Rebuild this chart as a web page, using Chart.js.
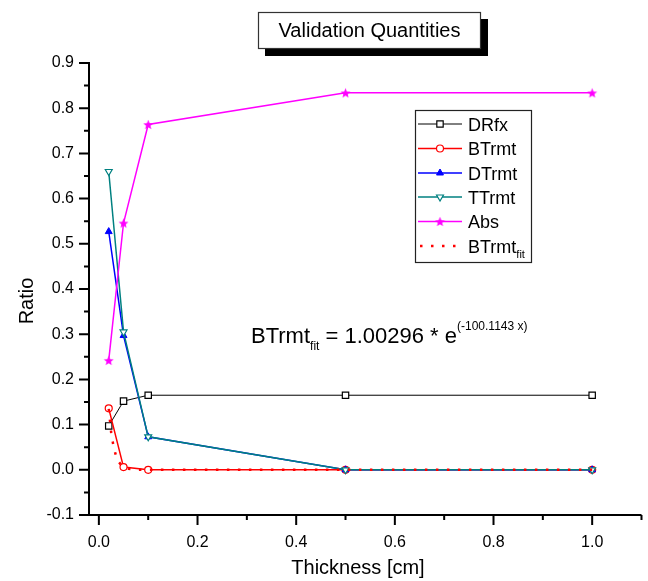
<!DOCTYPE html>
<html lang="en">
<head>
  <meta charset="UTF-8" />
  <title>Validation Quantities</title>
  <script src="https://cdn.jsdelivr.net/npm/chart.js"></script>
  <style>
    body { margin: 0; background: #fff; }
    #wrap { width: 648px; height: 581px; }
  </style>
</head>
<body>
  <div id="wrap"><canvas id="chart" width="648" height="581"></canvas></div>

  <script>
    // values
    const thickness = [0.02, 0.05, 0.1, 0.5, 1.0];
    const drfx    = [0.097, 0.152, 0.165, 0.165, 0.165];
    const btrmt   = [0.136, 0.006, 0.0, 0.0, 0.0];
    const dtrmt   = [0.527, 0.297, 0.073, 0.0, 0.0];
    const ttrmt   = [0.660, 0.305, 0.073, 0.0, 0.0];
    const absVals = [0.242, 0.546, 0.764, 0.834, 0.834];

    // dotted fit curve, traced by eye
    const fitX = [0.02, 0.025, 0.03, 0.035, 0.04, 0.045, 0.05, 0.06, 0.07, 0.08, 0.1, 0.5, 1.0];
    const fitY = [0.135, 0.082, 0.050, 0.030, 0.018, 0.011, 0.007, 0.0025, 0.001, 0.0003, 0.0, 0.0, 0.0];

    const xMajor = [0, 0.2, 0.4, 0.6, 0.8, 1.0];
    const xMinor = [0.1, 0.3, 0.5, 0.7, 0.9, 1.1];
    const yMajor = [-0.1, 0, 0.1, 0.2, 0.3, 0.4, 0.5, 0.6, 0.7, 0.8, 0.9];
    const yMinor = [-0.05, 0.05, 0.15, 0.25, 0.35, 0.45, 0.55, 0.65, 0.75, 0.85];

    const FONT = "'Liberation Sans', Arial, sans-serif";

    function starImage(color) {
      const c = document.createElement('canvas');
      c.width = 11; c.height = 11;
      const g = c.getContext('2d');
      g.fillStyle = color;
      g.beginPath();
      for (let i = 0; i < 10; i++) {
        const r = i % 2 ? 2.3 : 5.2;
        const a = -Math.PI / 2 + i * Math.PI / 5;
        g.lineTo(5.5 + r * Math.cos(a), 6 + r * Math.sin(a));
      }
      g.closePath();
      g.fill();
      return c;
    }

    const pts = ys => thickness.map((x, i) => ({ x: x, y: ys[i] }));

    const datasets = [
      {
        label: 'DRfx', data: pts(drfx),
        borderColor: '#000000', backgroundColor: '#ffffff', borderWidth: 1,
        pointStyle: 'rect', pointRadius: 4.5, pointBorderWidth: 1.2, order: 5
      },
      {
        label: 'BTrmt', data: pts(btrmt),
        borderColor: '#ff0000', backgroundColor: '#ffffff', borderWidth: 1.5,
        pointStyle: 'circle', pointRadius: 3.5, pointBorderWidth: 1.2, order: 4
      },
      {
        label: 'DTrmt', data: pts(dtrmt),
        borderColor: '#0000ff', backgroundColor: '#0000ff', borderWidth: 1.5,
        pointStyle: 'triangle', pointRadius: 4, pointBorderWidth: 1, order: 3
      },
      {
        label: 'TTrmt', data: pts(ttrmt),
        borderColor: '#008080', backgroundColor: '#ffffff', borderWidth: 1.5,
        pointStyle: 'triangle', rotation: 180, pointRadius: 4, pointBorderWidth: 1.2, order: 2
      },
      {
        label: 'Abs', data: pts(absVals),
        borderColor: '#ff00ff', backgroundColor: '#ff00ff', borderWidth: 1.5,
        pointStyle: starImage('#ff00ff'), pointRadius: 5, order: 1
      },
      {
        label: 'BTrmt_fit', data: fitX.map((x, i) => ({ x: x, y: fitY[i] })),
        borderColor: '#ff0000', backgroundColor: '#ff0000', borderWidth: 2.5,
        borderDash: [2.5, 8.5], pointRadius: 0, order: 0
      }
    ];
    datasets.forEach(d => { d.showLine = true; d.fill = false; });

    const decor = {
      id: 'decor',
      afterDatasetsDraw(chart) {
        const ctx = chart.ctx;
        const a = chart.chartArea;
        const xs = chart.scales.x, ys = chart.scales.y;
        ctx.save();

        // axes with outward ticks
        ctx.strokeStyle = '#000';
        ctx.lineWidth = 2;
        ctx.beginPath();
        ctx.moveTo(a.left, ys.getPixelForValue(0.9) - 1);
        ctx.lineTo(a.left, a.bottom);
        ctx.lineTo(a.right, a.bottom);
        yMajor.forEach(v => { const p = ys.getPixelForValue(v); ctx.moveTo(a.left, p); ctx.lineTo(a.left - 10, p); });
        yMinor.forEach(v => { const p = ys.getPixelForValue(v); ctx.moveTo(a.left, p); ctx.lineTo(a.left - 5, p); });
        xMajor.forEach(v => { const p = xs.getPixelForValue(v); ctx.moveTo(p, a.bottom); ctx.lineTo(p, a.bottom + 10); });
        xMinor.forEach(v => { const p = xs.getPixelForValue(v); ctx.moveTo(p, a.bottom); ctx.lineTo(p, a.bottom + 5); });
        ctx.stroke();

        // axis titles
        ctx.fillStyle = '#000';
        ctx.font = '20px ' + FONT;
        ctx.textAlign = 'center';
        ctx.textBaseline = 'middle';
        ctx.fillText('Thickness [cm]', 358, 568);
        ctx.save();
        ctx.translate(27, 301);
        ctx.rotate(-Math.PI / 2);
        ctx.fillText('Ratio', 0, 0);
        ctx.restore();

        // title box with shadow
        ctx.fillStyle = '#000';
        ctx.fillRect(265, 19, 223, 37);
        ctx.fillStyle = '#fff';
        ctx.fillRect(258, 12, 223, 37);
        ctx.lineWidth = 1.2;
        ctx.strokeStyle = '#333';
        ctx.strokeRect(258.5, 12.5, 222, 36);
        ctx.fillStyle = '#000';
        ctx.font = '20px ' + FONT;
        ctx.fillText('Validation Quantities', 369.5, 31);

        // legend
        ctx.fillStyle = '#fff';
        ctx.fillRect(415, 110, 117, 153);
        ctx.strokeStyle = '#222';
        ctx.lineWidth = 1.2;
        ctx.strokeRect(415.5, 110.5, 116, 152);
        const rowY = [124, 148.5, 173, 197, 221.5, 246];
        chart.data.datasets.forEach((d, i) => {
          const y = rowY[i];
          ctx.save();
          ctx.strokeStyle = d.borderColor;
          ctx.lineWidth = d.borderWidth;
          ctx.setLineDash(d.borderDash || []);
          ctx.beginPath();
          ctx.moveTo(d.borderDash ? 420 : 418, y);
          ctx.lineTo(462, y);
          ctx.stroke();
          ctx.setLineDash([]);
          if (d.pointRadius > 0) {
            ctx.fillStyle = d.backgroundColor;
            ctx.lineWidth = d.pointBorderWidth || 1;
            Chart.helpers.drawPoint(ctx, {
              pointStyle: d.pointStyle, radius: d.pointRadius,
              rotation: d.rotation || 0, borderWidth: d.pointBorderWidth || 1
            }, 440, y);
          }
          ctx.restore();
          const parts = d.label.split('_');
          ctx.fillStyle = '#000';
          ctx.textAlign = 'left';
          ctx.textBaseline = 'alphabetic';
          ctx.font = '18px ' + FONT;
          ctx.fillText(parts[0], 468, y + 6.5);
          if (parts[1]) {
            const w = ctx.measureText(parts[0]).width;
            ctx.font = '11px ' + FONT;
            ctx.fillText(parts[1], 468 + w, y + 12);
          }
        });

        // fit equation
        let x = 251;
        const base = 343;
        ctx.textAlign = 'left';
        ctx.textBaseline = 'alphabetic';
        ctx.font = '22px ' + FONT;
        ctx.fillText('BTrmt', x, base);
        x += ctx.measureText('BTrmt').width;
        ctx.font = '12px ' + FONT;
        ctx.fillText('fit', x, base + 7);
        x += ctx.measureText('fit').width;
        ctx.font = '22px ' + FONT;
        ctx.fillText(' = 1.00296 * e', x, base);
        x += ctx.measureText(' = 1.00296 * e').width;
        ctx.font = '12px ' + FONT;
        ctx.fillText('(-100.1143 x)', x, base - 13);

        ctx.restore();
      }
    };

    new Chart(document.getElementById('chart').getContext('2d'), {
      type: 'scatter',
      data: { datasets: datasets },
      options: {
        responsive: false,
        animation: false,
        layout: { padding: { top: 63, right: 4, left: 0, bottom: 0 } },
        plugins: {
          legend: { display: false },
          tooltip: { enabled: false },
          title: { display: false }
        },
        scales: {
          x: {
            type: 'linear',
            min: -0.02,
            max: 1.1,
            afterBuildTicks: s => { s.ticks = xMajor.map(v => ({ value: v })); },
            afterFit: s => { s.height = 66; },
            grid: { display: false, drawTicks: false },
            border: { display: false },
            ticks: {
              autoSkip: false, maxRotation: 0, padding: 18,
              color: '#000', font: { family: FONT, size: 16 },
              callback: v => v.toFixed(1)
            }
          },
          y: {
            type: 'linear',
            min: -0.1,
            max: 0.9,
            afterBuildTicks: s => { s.ticks = yMajor.map(v => ({ value: v })); },
            afterFit: s => { s.width = 89; },
            grid: { display: false, drawTicks: false },
            border: { display: false },
            ticks: {
              autoSkip: false, padding: 15,
              color: '#000', font: { family: FONT, size: 16 },
              callback: v => v.toFixed(1)
            }
          }
        }
      },
      plugins: [decor]
    });
  </script>
</body>
</html>
